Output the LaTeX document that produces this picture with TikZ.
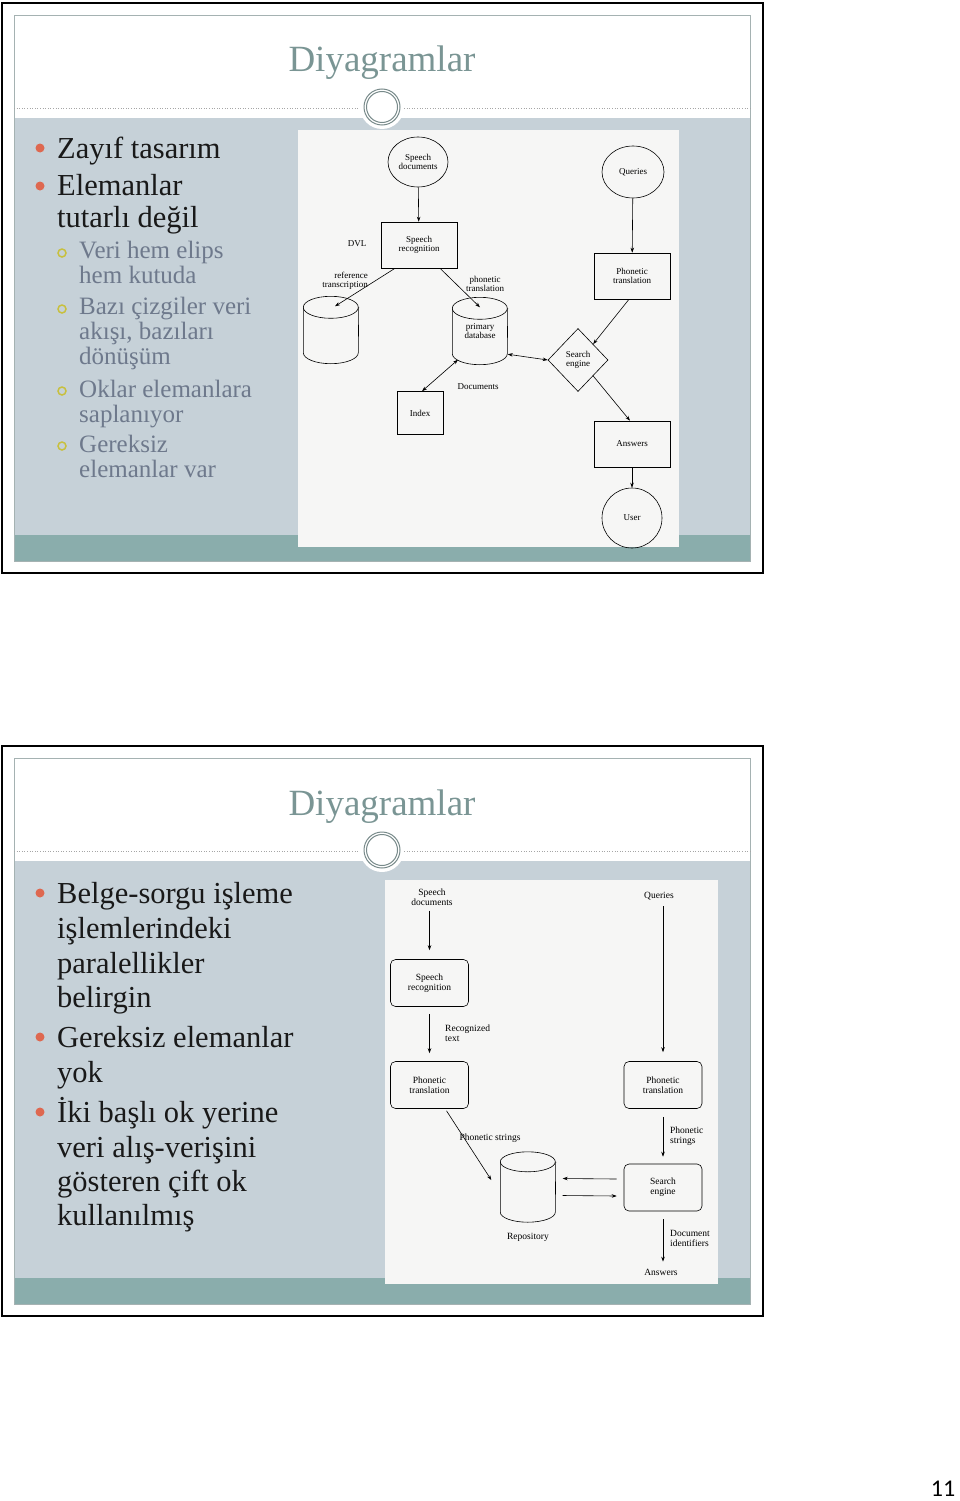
\documentclass[tikz,border=0pt]{standalone}
\usepackage{fontspec}
\setmainfont{Liberation Serif}
\newfontfamily\pagefont{Carlito}
\usetikzlibrary{shapes.geometric,arrows.meta}

\definecolor{band}{RGB}{198,209,216}
\definecolor{foot}{RGB}{138,173,172}
\definecolor{ttl}{RGB}{122,149,148}
\definecolor{subtx}{RGB}{110,121,140}
\definecolor{cbulA}{RGB}{222,104,80}
\definecolor{cbulB}{RGB}{200,192,62}
\definecolor{rim}{RGB}{165,178,178}
\definecolor{ring}{RGB}{120,138,138}
\definecolor{imgbg}{RGB}{246,246,245}

\begin{document}
\begin{tikzpicture}[x=1pt,y=-1pt,
    every node/.style={font=\fontsize{9}{9.5}\selectfont,align=center,inner sep=0pt,text=black},
    proc/.style={draw,line width=0.6pt,minimum width=76pt,minimum height=46pt},
    rproc/.style={proc,rounded corners=5pt,minimum width=78pt,minimum height=47pt},
    oval/.style={draw,ellipse,line width=0.6pt},
    store/.style={minimum width=55pt,minimum height=67pt},
    flow/.style={-{Stealth[length=5pt,width=3.5pt]},line width=0.6pt},
    both/.style={{Stealth[length=5pt,width=3.5pt]}-{Stealth[length=5pt,width=3.5pt]},line width=0.6pt},
    title/.style={font=\fontsize{37}{37}\selectfont,text=ttl,anchor=base},
    big/.style={font=\fontsize{30.5}{32}\selectfont,anchor=base west,text=black!90},
    small/.style={font=\fontsize{25}{26}\selectfont,anchor=base west,text=subtx},
    bulA/.style={circle,fill=cbulA,minimum size=9pt},
    bulB/.style={circle,draw=cbulB,line width=1.5pt,minimum size=8pt}]
    %
    % slide frames
    \foreach \yo in {0,743} {
      \begin{scope}[shift={(0,\yo)}]
        \draw[line width=2.6pt] (2,3) rectangle (763,573);
        \fill[band] (14,118) rectangle (750,535);
        \fill[foot] (14,535) rectangle (750,561);
        \draw[rim,line width=0.8pt] (14,15) rectangle (750,561);
        \draw[gray!70,dotted,line width=0.6pt] (14,108) -- (750,108);
        \fill[white] (382,107) circle (22pt);
        \draw[ring,line width=1pt] (382,107) circle (18pt) (382,107) circle (15.5pt);
        \node[title] (ttl\yo) at (382,72) {Diyagramlar};
      \end{scope}
    }
    %
    % slide 1 text
    \node[bulA] (b1) at (40,148) {};
    \node[big] (l1) at (57,158) {Zayıf tasarım};
    \node[bulA] (b2) at (40,186) {};
    \node[big] (l2) at (57,195) {Elemanlar};
    \node[big] (l3) at (57,227) {tutarlı değil};
    \node[bulB] (s1) at (62,253) {};
    \node[small] (l4) at (79,258) {Veri hem elips};
    \node[small] (l5) at (79,283) {hem kutuda};
    \node[bulB] (s2) at (62,309) {};
    \node[small] (l6) at (79,314) {Bazı çizgiler veri};
    \node[small] (l7) at (79,339) {akışı, bazıları};
    \node[small] (l8) at (79,364) {dönüşüm};
    \node[bulB] (s3) at (62,391) {};
    \node[small] (l9) at (79,397) {Oklar elemanlara};
    \node[small] (l10) at (79,422) {saplanıyor};
    \node[bulB] (s4) at (62,446) {};
    \node[small] (l11) at (79,452) {Gereksiz};
    \node[small] (l12) at (79,477) {elemanlar var};
    %
    % slide 1 diagram
    \fill[imgbg] (298,130) rectangle (679,547);
    \node[oval,minimum width=60pt,minimum height=50pt] (sdoc) at (418,162) {Speech\\documents};
    \node[proc] (srec) at (419,245) {Speech\\recognition};
    \node (dvl) at (357,244) {DVL};
    \node[align=right] (reflbl) at (345,281) {reference\\transcription};
    \node (phlbl) at (485,284) {phonetic\\translation};
    \node[store] (refdb) at (331,330) {};
    \node[store] (pdb) at (480,331) {primary\\database};
    \node[proc,minimum width=46pt,minimum height=43pt] (index) at (420,413) {Index};
    \node (doclbl) at (478,387) {Documents};
    \node[draw,diamond,line width=0.6pt,minimum width=60pt,minimum height=63pt] (search) at (578,360) {Search\\engine};
    \node[oval,minimum width=62pt,minimum height=52pt] (query) at (633,172) {Queries};
    \node[proc] (ptrans) at (632,276) {Phonetic\\translation};
    \node[proc] (answer) at (632,444) {Answers};
    \node[draw,circle,line width=0.6pt,minimum size=60pt] (user) at (632,518) {User};
    %
    \draw[flow] (sdoc) -- (srec);
    \draw[flow] ([xshift=-24pt]srec.south) -- ([xshift=4pt,yshift=-10pt]refdb.north);
    \draw[flow] ([xshift=21pt]srec.south) -- ([yshift=-10pt]pdb.north);
    \draw[both] ([xshift=-22pt,yshift=5pt]pdb.south) -- ([xshift=2pt]index.north);
    \draw[both] (pdb.-40) -- (search.west);
    \draw[flow] (query) -- (ptrans);
    \draw[flow] ([xshift=-3pt]ptrans.south) -- (search.north east);
    \draw[flow] (search.south east) -- ([xshift=-2pt]answer.north);
    \draw[flow] (answer) -- (user);
    %
    % slide 2 text
    \node[bulA] (b3) at (40,893) {};
    \node[big] (m1) at (57,903) {Belge-sorgu işleme};
    \node[big] (m2) at (57,938) {işlemlerindeki};
    \node[big] (m3) at (57,973) {paralellikler};
    \node[big] (m4) at (57,1007) {belirgin};
    \node[bulA] (b4) at (40,1037) {};
    \node[big] (m5) at (57,1047) {Gereksiz elemanlar};
    \node[big] (m6) at (57,1082) {yok};
    \node[bulA] (b5) at (40,1112) {};
    \node[big] (m7) at (57,1122) {İki başlı ok yerine};
    \node[big] (m8) at (57,1157) {veri alış-verişini};
    \node[big] (m9) at (57,1191) {gösteren çift ok};
    \node[big] (m10) at (57,1225) {kullanılmış};
    %
    % slide 2 diagram
    \fill[imgbg] (385,880) rectangle (718,1284);
    \begin{scope}[every node/.append style={font=\fontsize{9.5}{10}\selectfont}]
    \node (sdoc2) at (432,897) {Speech\\documents};
    \node[rproc] (srec2) at (429.5,983) {Speech\\recognition};
    \node[anchor=west,align=left] (rtext) at (445,1033) {Recognized\\text};
    \node[rproc] (pleft) at (429.5,1085) {Phonetic\\translation};
    \node (pstr2) at (490,1138) {Phonetic strings};
    \node[store,minimum height=70pt] (repo) at (528,1187) {};
    \node (repolbl) at (528,1237) {Repository};
    \node (query2) at (659,896) {Queries};
    \node[rproc] (pright) at (663,1085) {Phonetic\\translation};
    \node[anchor=west,align=left] (pstr) at (670,1136) {Phonetic\\strings};
    \node[rproc] (search2) at (663,1187.5) {Search\\engine};
    \node[anchor=west,align=left] (docid) at (670,1238) {Document\\identifiers};
    \node (answer2) at (661,1272) {Answers};
    \end{scope}
    %
    % cylinders
    \foreach \c/\ry in {refdb/11,pdb/11,repo/10} {
      \draw[line width=0.6pt] ([yshift=-\ry pt]\c.north west) arc[start angle=180,end angle=-180,x radius=27.5pt,y radius=\ry pt];
      \draw[line width=0.6pt] ([yshift=-\ry pt]\c.north west) -- ([yshift=\ry pt]\c.south west)
        arc[start angle=180,end angle=360,x radius=27.5pt,y radius=\ry pt] -- ([yshift=-\ry pt]\c.north east);
    }
    %
    \draw[flow,shorten <=5pt,shorten >=9pt] (sdoc2.south -| srec2.north) -- (srec2.north);
    \draw[flow,shorten <=7pt,shorten >=8pt] (srec2) -- (pleft);
    \draw[flow,shorten <=6pt,shorten >=9pt] (query2.south -| pright.north) -- (pright.north);
    \draw[flow,shorten <=8pt,shorten >=7pt] (pright) -- (search2);
    \draw[flow,shorten <=8pt,shorten >=7pt] (search2.south) -- (answer2.north -| search2.south);
    \draw[flow] ([xshift=17pt,yshift=-2pt]pleft.south) -- ([xshift=-9pt,yshift=7pt]repo.west);
    \draw[flow] ([xshift=-7pt,yshift=8.5pt]search2.west) -- ([xshift=7pt,yshift=8.5pt]repo.east);
    \draw[flow] ([xshift=7pt,yshift=-8.5pt]repo.east) -- ([xshift=-7pt,yshift=-8.5pt]search2.west);
    %
    \node[font=\pagefont\fontsize{24}{24}\selectfont,anchor=base,text=black] (pnum) at (943,1496) {11};
    \useasboundingbox (0,0) rectangle (960,1501);
\end{tikzpicture}
\end{document}
